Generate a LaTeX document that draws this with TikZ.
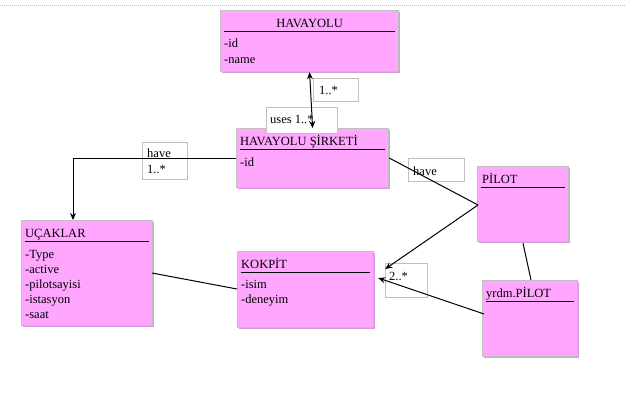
\documentclass[tikz,border=0pt]{standalone}
\usepackage{fontspec}
\setmainfont{Liberation Serif}
\usetikzlibrary{calc,arrows.meta,shadows}

\definecolor{umlpink}{RGB}{255,166,255}
\definecolor{umlgray}{RGB}{192,192,192}

\tikzset{
	cls/.style={draw=umlgray, fill=umlpink, line width=1.2pt, anchor=north west, inner sep=0pt,
		drop shadow={shadow xshift=1.5pt, shadow yshift=-1.5pt, fill=umlpink!70!gray, opacity=1}},
	lbl/.style={draw=umlgray, fill=white, line width=1pt, anchor=north west, inner sep=0pt},
	txt/.style={anchor=base west, inner sep=0pt, font=\fontsize{12.5}{15}\selectfont},
	rul/.style={black, line width=0.9pt},
	link/.style={black, line width=1pt},
	tip/.style={-{Stealth[length=7pt,width=6pt]}}
}

\begin{document}
\begin{tikzpicture}[x=1pt,y=-1pt]
	\useasboundingbox (0,0) rectangle (625,405);
	\draw[umlgray, densely dotted, line width=1pt] (0,5) -- (625,5);

	% class boxes
	\node[cls, minimum width=178pt, minimum height=61pt] (havayolu) at (220,10) {};
	\node[cls, minimum width=152pt, minimum height=59pt] (sirket) at (236,128) {};
	\node[cls, minimum width=131pt, minimum height=105pt] (ucaklar) at (21,220) {};
	\node[cls, minimum width=136pt, minimum height=76pt] (kokpit) at (237,251) {};
	\node[cls, minimum width=91pt, minimum height=75pt] (pilot) at (477,166) {};
	\node[cls, minimum width=95pt, minimum height=76pt] (yrdm) at (482,280) {};

	% titles and rules
	\node[txt, anchor=base] (havayolu-t) at ($(havayolu.north)+(0,17)$) {HAVAYOLU};
	\node[txt] (sirket-t) at ($(sirket.north west)+(4,17)$) {HAVAYOLU ŞİRKETİ};
	\node[txt] (ucaklar-t) at ($(ucaklar.north west)+(4,17)$) {UÇAKLAR};
	\node[txt] (kokpit-t) at ($(kokpit.north west)+(4,17)$) {KOKPİT};
	\node[txt] (pilot-t) at ($(pilot.north west)+(5,17)$) {PİLOT};
	\node[txt] (yrdm-t) at ($(yrdm.north west)+(4,17)$) {yrdm.PİLOT};
	\foreach \c in {havayolu,sirket,ucaklar,kokpit,pilot,yrdm}
		\draw[rul] ($(\c.north west)+(4,21)$) -- ($(\c.north east)+(-4,21)$);

	% attributes
	\node[txt] (havayolu-a1) at ($(havayolu.north west)+(4,37)$) {-id};
	\node[txt] (havayolu-a2) at ($(havayolu.north west)+(4,53)$) {-name};
	\node[txt] (sirket-a1) at ($(sirket.north west)+(4,38)$) {-id};
	\node[txt] (kokpit-a1) at ($(kokpit.north west)+(4,37)$) {-isim};
	\node[txt] (kokpit-a2) at ($(kokpit.north west)+(4,52)$) {-deneyim};
	\foreach \a [count=\i] in {-Type,-active,-pilotsayisi,-istasyon,-saat}
		\node[txt] (ucaklar-a\i) at ($(ucaklar.north west)+(4,23+15*\i)$) {\a};

	% multiplicity labels
	\node[lbl, minimum width=45pt, minimum height=23pt] (m-top) at (313,78) {};
	\node[txt] at ($(m-top.north west)+(6,16)$) {1..*};
	\node[lbl, minimum width=71pt, minimum height=26pt] (m-uses) at (266,107) {};
	\node[txt] at ($(m-uses.north west)+(4,16)$) {uses 1..*};
	\node[lbl, minimum width=45pt, minimum height=37pt] (m-have) at (142,142) {};
	\node[txt] at ($(m-have.north west)+(5,15)$) {have};
	\node[txt] at ($(m-have.north west)+(5,31)$) {1..*};
	\node[lbl, minimum width=56pt, minimum height=23pt] (m-pilot) at (408,158) {};
	\node[txt] at ($(m-pilot.north west)+(5,17)$) {have};
	\node[lbl, minimum width=42pt, minimum height=34pt] (m-kokpit) at (385,263) {};
	\node[txt] at ($(m-kokpit.north west)+(4,17)$) {2..*};

	% connectors
	\coordinate (pjoint) at ($(pilot.north west)+(1,39)$);
	\coordinate (kin1) at ($(kokpit.north east)+(11,18)$);
	\coordinate (kin2) at ($(kokpit.north east)+(4,27)$);
	\draw[link, {Stealth[length=7pt,width=6pt]}-{Stealth[length=7pt,width=6pt]}] (havayolu.south) -- (sirket.north);
	\draw[link, tip] ($(sirket.north west)+(0,30)$) -| ($(ucaklar.north west)+(52,0)$);
	\draw[link] ($(sirket.north east)+(0,30)$) -- (pjoint);
	\draw[link, tip] (pjoint) -- (kin1);
	\draw[link, tip] ($(yrdm.north west)+(2,34)$) -- (kin2);
	\draw[link] ($(pilot.south west)+(46,1)$) -- ($(yrdm.north west)+(49,0)$);
	\draw[link] ($(ucaklar.north west)+(131,53)$) -- ($(kokpit.north west)+(0,38)$);
\end{tikzpicture}
\end{document}
